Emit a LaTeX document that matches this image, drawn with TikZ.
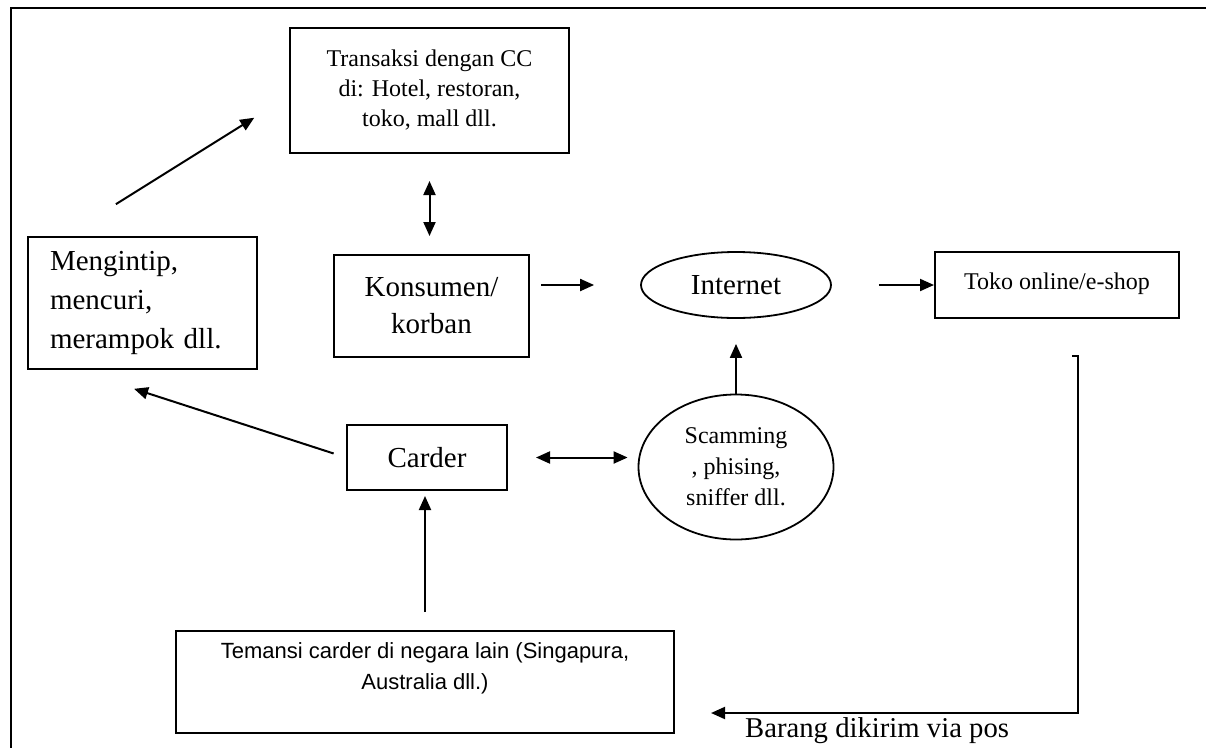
\documentclass[tikz,border=0pt]{standalone}
\usepackage{fontspec}
\setmainfont{Liberation Serif}
\setsansfont{Liberation Sans}
\usetikzlibrary{arrows.meta,shapes.geometric}
\tikzset{
  kotak/.style={draw, line width=2pt, inner sep=0pt, align=center},
  elips/.style={draw, ellipse, line width=1.8pt, inner sep=0pt, align=center},
  panah/.style={-{Triangle[length=14pt,width=12pt]}, line width=2pt},
  duapanah/.style={{Triangle[length=14pt,width=12pt]}-{Triangle[length=14pt,width=12pt]}, line width=2pt},
}

\begin{document}
\begin{tikzpicture}[x=1pt,y=-1pt]
      \useasboundingbox (0,0) rectangle (1206,747);
      \draw[line width=2.5pt] (1210,8) -- (11,8) -- (11,750);
      \draw
        (429.5,90.5) node[kotak, minimum width=279, minimum height=125, font=\fontsize{24}{30}\selectfont] (transaksi)
          {Transaksi dengan CC\\di: Hotel, restoran,\\toko, mall dll.}
        (142.5,303) node[kotak, minimum width=229, minimum height=132, text width=185, align=left, font=\fontsize{29}{39}\selectfont] (mengintip)
          {Mengintip,\\mencuri,\\merampok dll.}
        (431.5,306) node[kotak, minimum width=195, minimum height=102, font=\fontsize{29}{37}\selectfont] (konsumen)
          {Konsumen/\\korban}
        (736,285) node[elips, minimum width=190, minimum height=66, font=\fontsize{29}{32}\selectfont] (internet)
          {Internet}
        (1057,285) node[kotak, minimum width=244, minimum height=66, font=\fontsize{24}{28}\selectfont] (toko)
          {\raisebox{8pt}{Toko online/e-shop}}
        (427,457.5) node[kotak, minimum width=160, minimum height=65, font=\fontsize{29}{32}\selectfont] (carder)
          {Carder}
        (736,467) node[elips, minimum width=195, minimum height=145, font=\fontsize{24}{31}\selectfont] (scamming)
          {Scamming\\, phising,\\sniffer dll.}
        (425,682) node[kotak, minimum width=498, minimum height=102, font=\sffamily\fontsize{22}{31}\selectfont] (temansi)
          {\parbox[c][90pt][t]{480pt}{\centering\strut Temansi carder di negara lain (Singapura,\\Australia dll.)}}
        (745,737) node[anchor=base west, inner sep=0pt, font=\fontsize{28.7}{32}\selectfont] (barang)
          {Barang dikirim via pos};
      \begin{scope}[panah]
        \draw[shorten <=60, shorten >=41] ([xshift=38]mengintip.north west) to ([yshift=-5.5]transaksi.west);
        \draw[duapanah, shorten <=27, shorten >=18] (transaksi.south) to (transaksi.south |- konsumen.north);
        \draw[shorten <=11, shorten >=46] (internet.west -| konsumen.east) to (internet.west);
        \draw[shorten <=47] (internet.east) to (toko.west);
        \draw[shorten >=25] (scamming.north) to (internet.south);
        \draw[duapanah, shorten <=28, shorten >=10] (carder.east) to (carder.east -| scamming.west);
        \draw[shorten <=13, shorten >=61] (carder.west) to ([xshift=49]mengintip.south west);
        \draw[shorten <=18, shorten >=5] (temansi.north) to (temansi.north |- carder.south);
        \draw ([xshift=15,yshift=-37]toko.south) -- ++(6,0) |- ([xshift=36,yshift=-31]temansi.east);
      \end{scope}
    \end{tikzpicture}
\end{document}
